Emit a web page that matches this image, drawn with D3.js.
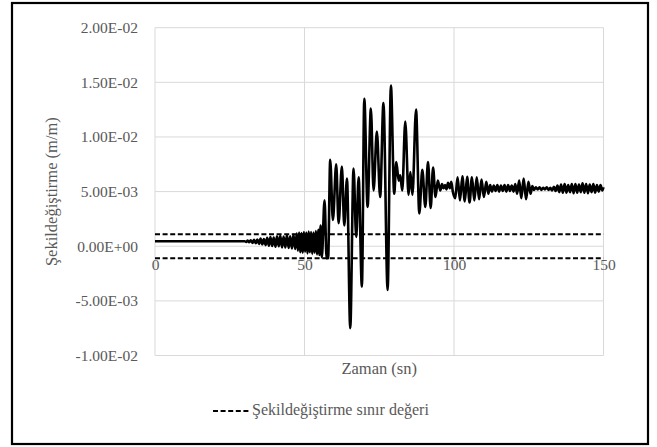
<!DOCTYPE html>
<html>
<head>
<meta charset="utf-8">
<script src="https://cdn.jsdelivr.net/npm/d3@7"></script>
<style>
  body { margin: 0; background: #fff; }
  svg text { font-family: "Liberation Serif", serif; }
</style>
</head>
<body>
<svg id="grafik" width="657" height="447"></svg>
<script>
// eksen degerleri
var xTikler = [0, 50, 100, 150];
var yTikler = [-0.01, -0.005, 0, 0.005, 0.01, 0.015, 0.02];
var sinirDegeri = [0.0011, -0.0011];
var seriAdi = "Şekildeğiştirme sınır değeri";

// zaman (sn), sekildegistirme (m/m) - grafikten okunan tepe noktalari
var kayit = [
  [0, 0.46e-3], [30.0, 0.46e-3], [30.5, 0.40e-3], [31.0, 0.52e-3], [31.5, 0.36e-3],
  [32.0, 0.55e-3], [32.6, 0.30e-3], [33.1, 0.60e-3], [33.7, 0.28e-3], [34.2, 0.62e-3],
  [34.8, 0.22e-3], [35.3, 0.70e-3], [35.9, 0.18e-3], [36.4, 0.66e-3], [37.0, 0.10e-3],
  [37.5, 0.78e-3], [38.1, 0.05e-3], [38.6, 0.85e-3], [39.2, 0.02e-3], [39.7, 0.80e-3],
  [40.3, -0.05e-3], [40.8, 0.90e-3], [41.4, 0.00], [41.9, 0.95e-3], [42.5, -0.10e-3],
  [43.0, 0.88e-3], [43.6, -0.12e-3], [44.1, 1.00e-3], [44.7, -0.15e-3], [45.2, 0.92e-3],
  [45.8, -0.20e-3], [46.3, 1.05e-3], [46.9, -0.25e-3], [47.4, 1.15e-3], [47.8, -0.40e-3],
  [48.2, 1.25e-3], [48.6, -0.55e-3], [49.0, 1.20e-3], [49.4, -0.60e-3], [49.8, 1.30e-3],
  [50.2, -0.50e-3], [50.6, 1.25e-3], [51.0, -0.65e-3], [51.4, 1.35e-3], [51.8, -0.55e-3],
  [52.2, 1.30e-3], [52.6, -0.70e-3], [53.0, 1.25e-3], [53.4, -0.60e-3], [53.8, 1.40e-3],
  [54.2, -0.75e-3], [54.6, 1.50e-3], [55.0, -0.80e-3], [55.4, 1.90e-3], [55.8, -1.00e-3],
  [56.7, 4.20e-3], [57.4, -1.10e-3], [57.9, -1.10e-3], [58.6, 7.90e-3], [59.5, 2.40e-3],
  [60.6, 7.50e-3], [61.4, 2.10e-3], [62.5, 7.30e-3], [63.3, 1.90e-3], [64.2, 6.20e-3],
  [65.3, -7.50e-3], [66.4, 7.10e-3], [67.3, 0.85e-3], [68.1, 6.30e-3], [69.2, -3.70e-3],
  [70.0, 13.5e-3], [71.1, 3.60e-3], [72.2, 12.6e-3], [73.1, 5.10e-3], [74.2, 10.5e-3],
  [75.3, 4.50e-3], [76.4, 13.1e-3], [77.8, -4.00e-3], [78.9, 14.7e-3], [80.0, 4.80e-3],
  [80.7, 7.70e-3], [81.5, 6.00e-3], [82.0, 6.50e-3], [82.7, 5.10e-3], [83.7, 11.4e-3],
  [84.8, 4.70e-3], [85.4, 6.80e-3], [86.1, 4.70e-3], [87.3, 12.5e-3], [88.4, 3.00e-3],
  [89.4, 7.00e-3], [90.4, 3.60e-3], [91.3, 7.70e-3], [92.2, 3.50e-3], [93.0, 7.20e-3],
  [93.8, 4.50e-3], [94.6, 6.00e-3], [95.4, 5.10e-3], [96.0, 5.70e-3], [96.5, 5.30e-3],
  [97.0, 5.60e-3], [97.5, 5.20e-3], [98.0, 5.80e-3], [98.6, 5.30e-3], [99.1, 5.90e-3],
  [99.6, 5.00e-3], [100.4, 4.40e-3], [101.2, 6.30e-3], [102.0, 4.20e-3], [102.8, 6.40e-3],
  [103.6, 4.10e-3], [104.4, 6.35e-3], [105.2, 4.00e-3], [106.0, 6.30e-3], [106.8, 4.20e-3],
  [107.6, 6.30e-3], [108.4, 4.30e-3], [109.2, 6.10e-3], [110.0, 4.50e-3], [110.8, 5.90e-3],
  [111.5, 4.80e-3], [112.1, 5.60e-3], [112.7, 5.00e-3], [113.3, 5.55e-3], [113.9, 5.05e-3],
  [114.5, 5.60e-3], [115.1, 5.00e-3], [115.7, 5.55e-3], [116.3, 5.05e-3], [116.9, 5.60e-3],
  [117.5, 5.00e-3], [118.1, 5.60e-3], [118.7, 5.05e-3], [119.3, 5.55e-3], [119.9, 5.00e-3],
  [120.5, 5.70e-3], [121.1, 4.80e-3], [121.8, 6.00e-3], [122.5, 4.40e-3], [123.3, 6.20e-3],
  [124.1, 4.30e-3], [124.9, 5.90e-3], [125.6, 4.80e-3], [126.2, 5.50e-3], [126.8, 5.15e-3],
  [127.4, 5.40e-3], [128.0, 5.20e-3], [128.6, 5.40e-3], [129.2, 5.15e-3], [129.8, 5.35e-3],
  [130.4, 5.20e-3], [131.0, 5.40e-3], [131.6, 5.15e-3], [132.2, 5.35e-3], [132.8, 5.10e-3],
  [133.4, 5.45e-3], [134.0, 5.05e-3], [134.6, 5.55e-3], [135.2, 4.95e-3], [135.8, 5.65e-3],
  [136.4, 4.90e-3], [137.0, 5.70e-3], [137.6, 4.90e-3], [138.2, 5.60e-3], [138.8, 4.95e-3],
  [139.4, 5.70e-3], [140.0, 4.85e-3], [140.6, 5.70e-3], [141.2, 4.90e-3], [141.8, 5.65e-3],
  [142.4, 4.95e-3], [143.0, 5.75e-3], [143.6, 4.90e-3], [144.2, 5.70e-3], [144.8, 4.85e-3],
  [145.4, 5.65e-3], [146.0, 4.95e-3], [146.6, 5.70e-3], [147.2, 4.90e-3], [147.8, 5.60e-3],
  [148.4, 5.00e-3], [149.0, 5.60e-3], [149.6, 5.10e-3], [150.0, 5.40e-3]
];

var cons = {
    SOL: 155, SAG: 603.5, UST: 27.7, ALT: 355.5,
    GRI_IZGARA: "#d9d9d9", GRI_YAZI: "#595959",
    YAZI_TIPI: "'Liberation Serif', serif"
};

function bilimselYaz(v) {
    if (Math.abs(v) < 1e-12) return "0.00E+00";
    var parca = v.toExponential(2).split("e");
    var us = +parca[1];
    return parca[0] + "E" + (us < 0 ? "-" : "+") + String(Math.abs(us)).padStart(2, "0");
}

var svg = d3.select("#grafik");

var x = d3.scaleLinear().domain([0, 150]).range([cons.SOL, cons.SAG]);
var y = d3.scaleLinear().domain([-0.01, 0.02]).range([cons.ALT, cons.UST]);

// cerceve
svg.append("rect")
    .attr("x", 12).attr("y", 3)
    .attr("width", 636).attr("height", 441)
    .attr("fill", "none")
    .attr("stroke", "#000")
    .attr("stroke-width", 2.2);

// izgara
svg.append("g").selectAll("line").data(yTikler).join("line")
    .attr("x1", cons.SOL).attr("x2", cons.SAG)
    .attr("y1", d => y(d)).attr("y2", d => y(d))
    .attr("stroke", cons.GRI_IZGARA).attr("stroke-width", 1);

svg.append("g").selectAll("line").data(xTikler).join("line")
    .attr("x1", d => x(d)).attr("x2", d => x(d))
    .attr("y1", cons.UST).attr("y2", cons.ALT)
    .attr("stroke", cons.GRI_IZGARA).attr("stroke-width", 1);

// y ekseni etiketleri
var yEksen = d3.axisLeft(y).tickValues(yTikler).tickFormat(bilimselYaz).tickSize(0).tickPadding(17);
var yG = svg.append("g").attr("transform", "translate(" + cons.SOL + ",0)").call(yEksen);
yG.select(".domain").remove();
yG.selectAll("text")
    .attr("fill", cons.GRI_YAZI)
    .style("font-family", cons.YAZI_TIPI)
    .style("font-size", "15.5px");

// x ekseni etiketleri (sifir cizgisinin altinda)
var xEksen = d3.axisBottom(x).tickValues(xTikler).tickFormat(d3.format("d")).tickSize(0).tickPadding(13);
var xG = svg.append("g").attr("transform", "translate(0," + y(0) + ")").call(xEksen);
xG.select(".domain").remove();
xG.selectAll("text")
    .attr("fill", cons.GRI_YAZI)
    .style("font-family", cons.YAZI_TIPI)
    .style("font-size", "15.5px");

// sinir degerleri
svg.append("g").selectAll("line").data(sinirDegeri).join("line")
    .attr("x1", x(0)).attr("x2", x(150))
    .attr("y1", d => y(d)).attr("y2", d => y(d))
    .attr("stroke", "#000")
    .attr("stroke-width", 2)
    .attr("stroke-dasharray", "5,2.6");

// ana seri
var cizgi = d3.line()
    .x(d => x(d[0]))
    .y(d => y(d[1]))
    .curve(d3.curveMonotoneX);

svg.append("path")
    .datum(kayit)
    .attr("d", cizgi)
    .attr("fill", "none")
    .attr("stroke", "#000")
    .attr("stroke-width", 2.6)
    .attr("stroke-linejoin", "round");

// eksen basliklari
svg.append("text")
    .attr("x", (cons.SOL + cons.SAG) / 2)
    .attr("y", 370)
    .attr("text-anchor", "middle")
    .attr("dominant-baseline", "middle")
    .attr("fill", cons.GRI_YAZI)
    .style("font-family", cons.YAZI_TIPI)
    .style("font-size", "16.5px")
    .text("Zaman (sn)");

svg.append("text")
    .attr("transform", "translate(53," + (cons.UST + cons.ALT) / 2 + ") rotate(-90)")
    .attr("text-anchor", "middle")
    .attr("dominant-baseline", "middle")
    .attr("fill", cons.GRI_YAZI)
    .style("font-family", cons.YAZI_TIPI)
    .style("font-size", "16.5px")
    .text("Şekildeğiştirme (m/m)");

// lejant
var lejant = svg.append("g").attr("transform", "translate(213,411)");
lejant.append("line")
    .attr("x1", 0).attr("x2", 37)
    .attr("y1", 0).attr("y2", 0)
    .attr("stroke", "#000")
    .attr("stroke-width", 2)
    .attr("stroke-dasharray", "5,2.6");
lejant.append("text")
    .attr("x", 39).attr("y", 0)
    .attr("dominant-baseline", "middle")
    .attr("fill", cons.GRI_YAZI)
    .style("font-family", cons.YAZI_TIPI)
    .style("font-size", "16px")
    .text(seriAdi);
</script>
</body>
</html>
